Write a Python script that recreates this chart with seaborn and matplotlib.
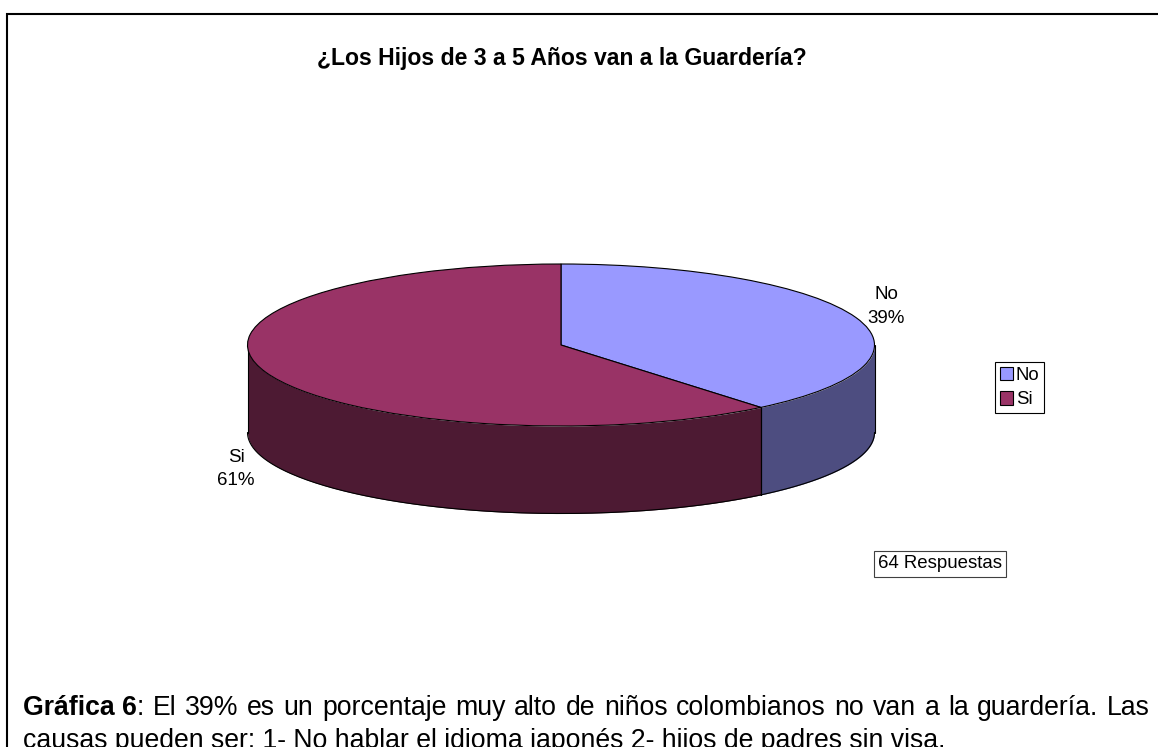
import numpy as np
import seaborn as sns
import matplotlib.pyplot as plt
from matplotlib.patches import Patch

# Data
categories = ['No', 'Si']
percents = [39, 61]
top_colors = ['#9999FF', '#993366']
side_colors = ['#4D4D80', '#4D1A33']
title = '¿Los Hijos de 3 a 5 Años van a la Guardería?'
note = '64 Respuestas'
caption_bold = 'Gráfica 6'
caption_rest = ': El 39% es un porcentaje muy alto de niños colombianos no van a la guardería. Las'
caption_line2 = 'causas pueden ser: 1- No hablar el idioma japonés 2- hijos de padres sin visa.'

sns.set_style('white')
plt.rcParams['font.family'] = ['Liberation Sans', 'DejaVu Sans']
plt.rcParams['text.color'] = 'black'

W, H = 1158, 747
fig = plt.figure(figsize=(W / 100, H / 100), dpi=100)

# background axes in pixel coordinates, for the frame and the text
bg = fig.add_axes([0, 0, 1, 1])
bg.set_xlim(0, W)
bg.set_ylim(H, 0)
bg.axis('off')
bg.plot([7, 7, W], [H, 14, 14], color='black', lw=1.5, solid_joinstyle='miter')

bg.text(562, 58, title, ha='center', va='center', fontsize=16.6, fontweight='bold')
bg.text(878, 564, note, ha='left', va='center', fontsize=13.4,
        bbox=dict(boxstyle='square,pad=0.24', fc='white', ec='#404040', lw=0.8))
bg.text(886, 306.5, 'No\n39%', ha='center', va='center', fontsize=13.5, linespacing=1.48)
bg.text(236, 469, 'Si\n61%', ha='center', va='center', fontsize=13.5, linespacing=1.48)

# caption, first line justified to the right edge word by word
cap_size = 19.2
cap_right = 1150
renderer = fig.canvas.get_renderer()
x_pos = 23
cap = bg.text(x_pos, 715, caption_bold, ha='left', va='baseline', fontsize=cap_size, fontweight='bold')
x_pos += cap.get_window_extent(renderer).width
words = caption_rest.split(' ')
probes = [bg.text(0, 0, w, fontsize=cap_size) for w in words]
widths = [p.get_window_extent(renderer).width for p in probes]
for p in probes:
    p.remove()
gap = (cap_right - x_pos - sum(widths)) / (len(words) - 1)
for w, wd in zip(words, widths):
    bg.text(x_pos, 715, w, ha='left', va='baseline', fontsize=cap_size)
    x_pos += wd + gap
bg.text(23, 748, caption_line2, ha='left', va='baseline', fontsize=cap_size, clip_on=False)

# pie axes: unit circle squashed to an ellipse, room below for the wall
cx, cy, rx, ry, depth = 561, 345, 313.5, 81, 87.5
left, right = cx - rx, cx + rx
top, bottom = cy - ry, cy + ry + depth
ax = fig.add_axes([left / W, 1 - bottom / H, (right - left) / W, (bottom - top) / H])
ax.patch.set_alpha(0)
ax.axis('off')

wedges, _ = ax.pie(percents, colors=top_colors, startangle=90, counterclock=False,
                   radius=1, wedgeprops=dict(edgecolor='black', linewidth=0.8, zorder=3, clip_on=False))
ax.set_aspect('auto')
d = depth / ry
ax.set_xlim(-1, 1)
ax.set_ylim(-1 - d, 1)

# side walls, only the front half (angles below the horizontal) shows
start = 90.0
for pct, col in zip(percents, side_colors):
    end = start - pct * 3.6
    a0, a1 = min(start, 0), max(end, -180)
    if a0 > a1:
        th = np.radians(np.linspace(a0, a1, 200))
        x = np.cos(th)
        y = np.sin(th)
        ax.fill_between(x, y, y - d, color=col, lw=0, zorder=1)
        ax.plot(x, y - d, color='black', lw=0.8, zorder=2, clip_on=False)
        ax.plot([x[0], x[0]], [y[0], y[0] - d], color='black', lw=0.8, zorder=2, clip_on=False)
        ax.plot([x[-1], x[-1]], [y[-1], y[-1] - d], color='black', lw=0.8, zorder=2, clip_on=False)
    start = end

# legend
handles = [Patch(fc=c, ec='black', lw=0.8, label=n) for c, n in zip(top_colors, categories)]
leg = fig.legend(handles=handles, loc='upper left', bbox_to_anchor=(995 / W, 1 - 362 / H),
                 fontsize=13.4, frameon=True, fancybox=False, framealpha=1, edgecolor='black',
                 handlelength=0.72, handleheight=0.72, handletextpad=0.15, borderpad=0.25,
                 labelspacing=0.4, borderaxespad=0)
leg.get_frame().set_linewidth(0.8)

plt.savefig('out.png', dpi=100)
plt.close()
